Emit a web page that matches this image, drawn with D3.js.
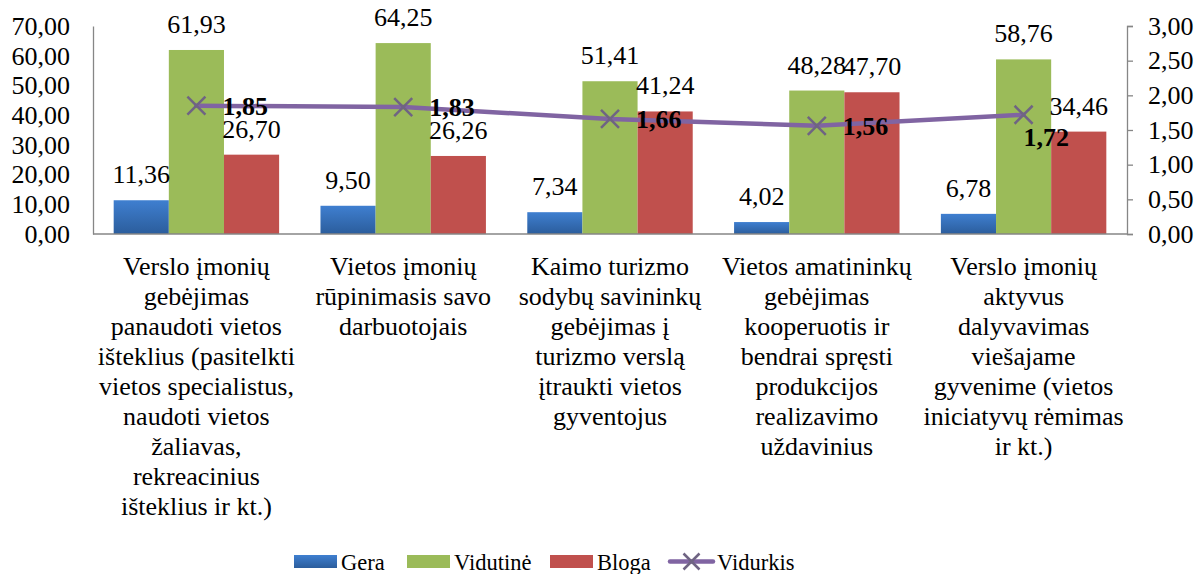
<!DOCTYPE html>
<html>
<head>
<meta charset="utf-8">
<script src="https://cdn.jsdelivr.net/npm/d3@7"></script>
<style>
  body { margin: 0; background: #fff; }
  svg text { font-family: "Liberation Serif", "Times New Roman", "DejaVu Serif", serif; fill: #000; }
</style>
</head>
<body>
<div id="chart"></div>
<script>
// data
var categories = [
  ["Verslo įmonių", "gebėjimas", "panaudoti vietos", "išteklius (pasitelkti", "vietos specialistus,", "naudoti vietos", "žaliavas,", "rekreacinius", "išteklius ir kt.)"],
  ["Vietos įmonių", "rūpinimasis savo", "darbuotojais"],
  ["Kaimo turizmo", "sodybų savininkų", "gebėjimas į", "turizmo verslą", "įtraukti vietos", "gyventojus"],
  ["Vietos amatininkų", "gebėjimas", "kooperuotis ir", "bendrai spręsti", "produkcijos", "realizavimo", "uždavinius"],
  ["Verslo įmonių", "aktyvus", "dalyvavimas", "viešajame", "gyvenime (vietos", "iniciatyvų rėmimas", "ir kt.)"]
];
var gera = [11.36, 9.50, 7.34, 4.02, 6.78];
var vidutine = [61.93, 64.25, 51.41, 48.28, 58.76];
var bloga = [26.70, 26.26, 41.24, 47.70, 34.46];
var vidurkis = [1.85, 1.83, 1.66, 1.56, 1.72];
var leftTicks = [0, 10, 20, 30, 40, 50, 60, 70];
var rightTicks = [0, 0.5, 1, 1.5, 2, 2.5, 3];
var seriesNames = ["Gera", "Vidutinė", "Bloga"];
var lineName = "Vidurkis";

(function(){
  var W = 1198, H = 574;
  var plotLeft = 93, plotRight = 1127, plotTop = 26, plotBottom = 234;
  var colors = ["url(#blueGrad)", "#9bbb59", "#c0504d"];
  var lineColor = "#8064a2";
  var axisColor = "#868686";

  function fmt(v){ return v.toFixed(2).replace(".", ","); }

  var svg = d3.select("#chart").append("svg")
    .attr("width", W).attr("height", H)
    .attr("font-family", "Liberation Serif");

  var defs = svg.append("defs");
  var grad = defs.append("linearGradient").attr("id", "blueGrad")
    .attr("x1", 0).attr("y1", 0).attr("x2", 0).attr("y2", 1);
  grad.append("stop").attr("offset", "0%").attr("stop-color", "#3f7fd0");
  grad.append("stop").attr("offset", "100%").attr("stop-color", "#2b5d9c");

  var x0 = d3.scaleBand().domain(d3.range(categories.length)).range([plotLeft, plotRight]).paddingInner(0.2).paddingOuter(0.1);
  var x1 = d3.scaleBand().domain(d3.range(3)).range([0, x0.bandwidth()]);
  var yL = d3.scaleLinear().domain([0, 70]).range([plotBottom, plotTop]);
  var yR = d3.scaleLinear().domain([0, 3]).range([plotBottom, plotTop]);

  // axes
  var axL = svg.append("g").attr("transform", "translate(" + plotLeft + ",0)")
    .call(d3.axisLeft(yL).tickValues(leftTicks).tickSize(0).tickPadding(23).tickFormat(fmt));
  var axR = svg.append("g").attr("transform", "translate(" + plotRight + ",0)")
    .call(d3.axisRight(yR).tickValues(rightTicks).tickSize(6).tickPadding(15).tickFormat(fmt));
  [axL, axR].forEach(function(a){
    a.attr("font-family", null).attr("font-size", null);
    a.select(".domain").attr("stroke", axisColor).attr("stroke-width", 1.3);
    a.selectAll(".tick line").attr("stroke", axisColor).attr("stroke-width", 1.3);
    a.selectAll(".tick text").attr("font-size", 26).attr("fill", "#000");
  });

  // bars
  var all = [gera, vidutine, bloga];
  all.forEach(function(vals, s){
    svg.append("g").selectAll("rect").data(vals).join("rect")
      .attr("x", function(d, i){ return x0(i) + x1(s); })
      .attr("y", function(d){ return yL(d); })
      .attr("width", x1.bandwidth())
      .attr("height", function(d){ return plotBottom - yL(d); })
      .attr("fill", colors[s]);
  });
  all.forEach(function(vals, s){
    svg.append("g").selectAll("text").data(vals).join("text")
      .attr("x", function(d, i){ return x0(i) + x1(s) + x1.bandwidth() / 2; })
      .attr("y", function(d){ return yL(d) - 17; })
      .attr("text-anchor", "middle")
      .attr("font-size", 26)
      .text(fmt);
  });

  // category axis line
  svg.append("line").attr("x1", plotLeft).attr("x2", plotRight).attr("y1", plotBottom).attr("y2", plotBottom)
    .attr("stroke", axisColor).attr("stroke-width", 1.3);

  // category labels
  categories.forEach(function(lines, i){
    var t = svg.append("text").attr("text-anchor", "middle").attr("font-size", 26)
      .attr("x", x0(i) + x0.bandwidth() / 2).attr("y", 275);
    lines.forEach(function(l, k){
      t.append("tspan").attr("x", x0(i) + x0.bandwidth() / 2).attr("dy", k === 0 ? 0 : 30).text(l);
    });
  });

  // average line
  var cx = function(i){ return x0(i) + x0.bandwidth() / 2; };
  svg.append("path").datum(vidurkis)
    .attr("fill", "none").attr("stroke", lineColor).attr("stroke-width", 4.5).attr("stroke-linecap", "round")
    .attr("d", d3.line().x(function(d, i){ return cx(i); }).y(function(d){ return yR(d); }));

  function cross(g, x, y, r){
    g.append("path")
      .attr("d", "M" + (x - r) + "," + (y - r) + "L" + (x + r) + "," + (y + r) + "M" + (x - r) + "," + (y + r) + "L" + (x + r) + "," + (y - r))
      .attr("stroke", "#6f6483").attr("stroke-width", 2.5).attr("fill", "none");
  }
  var mk = svg.append("g");
  vidurkis.forEach(function(d, i){ cross(mk, cx(i), yR(d), 9); });

  svg.append("g").selectAll("text").data(vidurkis).join("text")
    .attr("x", function(d, i){ return i === vidurkis.length - 1 ? cx(i) : cx(i) + 26; })
    .attr("y", function(d, i){ return yR(d) + (i === vidurkis.length - 1 ? 31 : 9); })
    .attr("font-size", 26).attr("font-weight", "bold")
    .text(fmt);

  // legend
  var lg = svg.append("g");
  var lx = [294, 407, 550];
  seriesNames.forEach(function(n, s){
    lg.append("rect").attr("x", lx[s]).attr("y", 555).attr("width", 43).attr("height", 13).attr("fill", colors[s]);
    lg.append("text").attr("x", lx[s] + 47).attr("y", 570).attr("font-size", 22.5).text(n);
  });
  lg.append("line").attr("x1", 670).attr("x2", 713).attr("y1", 561.5).attr("y2", 561.5)
    .attr("stroke", lineColor).attr("stroke-width", 4.5).attr("stroke-linecap", "round");
  cross(lg, 691.5, 561.5, 8);
  lg.append("text").attr("x", 717).attr("y", 570).attr("font-size", 22.5).text(lineName);
})();
</script>
</body>
</html>
